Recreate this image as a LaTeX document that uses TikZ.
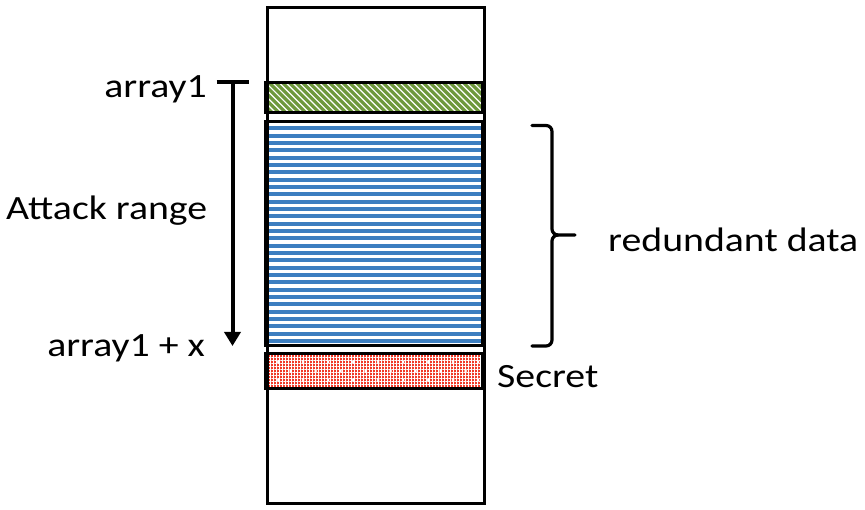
\documentclass[tikz,border=0pt]{standalone}
\usepackage{fontspec}
\setmainfont{Carlito}[FakeStretch=1.17]
\usetikzlibrary{arrows.meta,patterns.meta}
\definecolor{stripegreen}{RGB}{110,152,60}
\definecolor{stripeblue}{RGB}{60,126,192}
\definecolor{secretred}{RGB}{240,58,40}
\tikzset{
  lbl/.style={font=\fontsize{34}{40}\selectfont, inner sep=0pt},
  frame/.style={draw=black, line width=3pt},
  bracestroke/.style={draw=black, line width=3.2pt, line cap=round},
}
\begin{document}
\begin{tikzpicture}[x=1pt,y=-1pt]
\useasboundingbox (0,0) rectangle (865,510);
\fill[white] (0,0) rectangle (865,510);
% green block
\begin{scope}
\clip (265.5,82.5) rectangle (482.5,112.5);
\foreach \i in {-6,...,34} {
  \draw[stripegreen, line width=3.2pt] ({265.5+\i*6.7},79) -- ({265.5+\i*6.7+37},116);
}
\end{scope}
% blue block
\foreach \i in {0,...,29} {
  \fill[stripeblue] (265.5,{126.5+\i*7.33}) rectangle (482.5,{130.5+\i*7.33});
}
% red block
\fill[secretred] (265.5,353.5) rectangle (482.5,389);
\fill[pattern={Lines[angle=0,distance=3pt,line width=0.35pt]}, pattern color=white] (265.5,353.5) rectangle (482.5,389);
\fill[pattern={Lines[angle=90,distance=3pt,line width=0.35pt]}, pattern color=white] (265.5,353.5) rectangle (482.5,389);
\foreach \r in {0,1,2} {
  \foreach \c in {0,...,8} {
    \fill[white] ({278+\c*25+mod(\r,2)*12.5},{362+\r*9}) circle (1.5);
  }
}
% borders
\draw[frame] (265.5,82.5) rectangle (482.5,112.5);
\draw[frame] (265.5,122) rectangle (482.5,345.5);
\draw[frame] (265.5,353.5) rectangle (482.5,389);
\node[frame, minimum width=217pt, minimum height=495pt, inner sep=0pt, anchor=north west] (mem) at (265.5,6.5) {};
% attack range arrow
\coordinate (atop) at (232.5,82.5);
\coordinate (abot) at (232.5,346);
\draw[line width=4pt, {Bar[width=32pt,length=4pt,sep=-2pt]}-{Triangle[width=16pt,length=14pt]}] (atop) -- (abot);
% brace
\coordinate (b1) at (532,125.5);
\coordinate (bm) at (575,235);
\coordinate (b2) at (532,346);
\draw[bracestroke] (b1) -- (546,125.5) to[out=0,in=90] (552,131.5) -- (552,229) to[out=-90,in=180] (558,235) -- (bm);
\draw[bracestroke] (558,235) to[out=180,in=90] (552,241) -- (552,340) to[out=-90,in=0] (546,346) -- (b2);
% labels
\node[lbl, anchor=base east] (a1) at (207,98) {array1};
\node[lbl, anchor=base west] (ar) at (6,220) {Attack range};
\node[lbl, anchor=base east] (a1x) at (205,357) {array1 + x};
\node[lbl, anchor=base west] (sec) at (497,388) {Secret};
\node[lbl, anchor=base west] (red) at (608,252) {redundant data};
\end{tikzpicture}
\end{document}
